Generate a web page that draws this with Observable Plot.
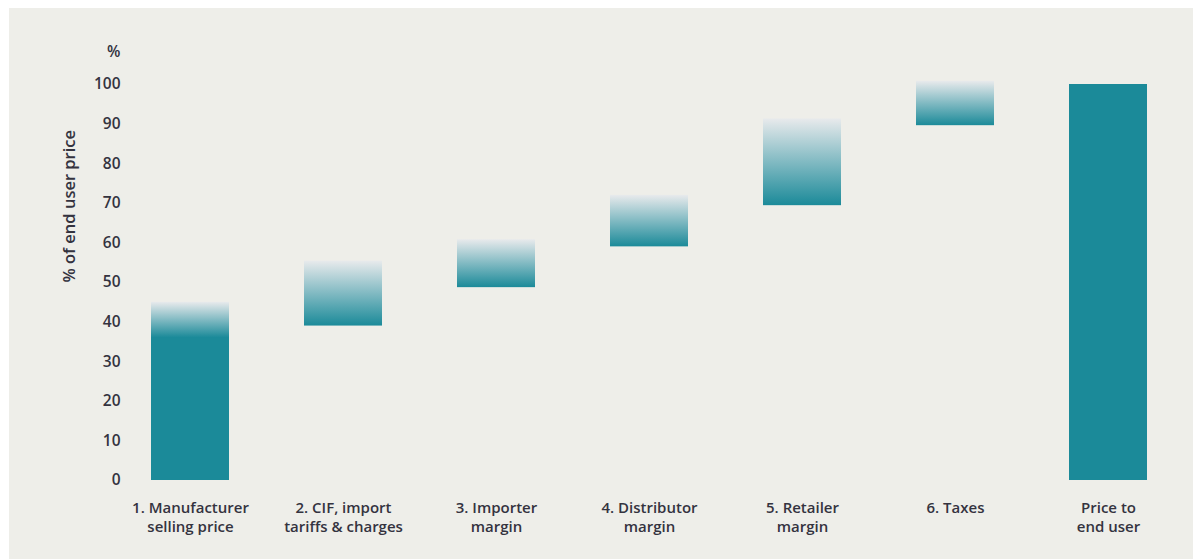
<!DOCTYPE html>
<html><head><meta charset="utf-8">
<script src="https://cdn.jsdelivr.net/npm/d3@7"></script>
<script src="https://cdn.jsdelivr.net/npm/@observablehq/plot@0.6"></script>
<style>
html,body{margin:0;padding:0;background:#fff;}
#panel{position:absolute;left:9px;top:8px;width:1184px;height:551px;background:#EEEEE9;}
</style></head><body><div id="panel"></div>
<script>
const categories = ["1. Manufacturer\nselling price","2. CIF, import\ntariffs & charges","3. Importer\nmargin","4. Distributor\nmargin","5. Retailer\nmargin","6. Taxes","Price to\nend user"];
const lows  = [0, 39, 48.7, 59, 69.4, 89.6, 0];
const highs = [45, 55.4, 60.8, 72, 91.3, 100.8, 100];
const yTicks = [0, 10, 20, 30, 40, 50, 60, 70, 80, 90, 100];
const yUnit = "%";
const yLabel = "% of end user price";

const rows = categories.map((c, i) => ({category: c, low: lows[i], high: highs[i], i}));
const teal = "#1B8A99";
const ink = "#34333f";

const plot = Plot.plot({
  width: 1184, height: 551,
  marginLeft: 109, marginRight: 12, marginTop: 76, marginBottom: 79,
  style: {fontFamily: "Open Sans", fontSize: "15px", color: ink, background: "transparent"},
  x: {domain: categories, paddingInner: 0.49, paddingOuter: 0.213, axis: null},
  y: {domain: [0, 100], axis: null},
  marks: [
    Plot.barY(rows.filter(d => d.i === 0), {x: "category", y1: "low", y2: "high", fill: "url(#fadeTop)"}),
    Plot.barY(rows.filter(d => d.i > 0 && d.i < categories.length - 1), {x: "category", y1: "low", y2: "high", fill: "url(#fadeFull)"}),
    Plot.barY(rows.filter(d => d.i === categories.length - 1), {x: "category", y1: "low", y2: "high", fill: teal}),
    Plot.axisY(yTicks, {tickSize: 0, tickPadding: 0, dx: 2, label: null, fontSize: 15.5, fontWeight: 600, fill: ink}),
    Plot.text([yUnit], {frameAnchor: "top-left", dx: 2, dy: -39, textAnchor: "end", fontSize: 15.5, fontWeight: 600, fill: ink}),
    Plot.text([yLabel], {frameAnchor: "left", rotate: -90, dx: -49, fontSize: 16.5, fontWeight: 600, fill: ink}),
    Plot.text(categories, {x: d => d, frameAnchor: "bottom", lineAnchor: "top", dy: 19, lineHeight: 1.25, fontSize: 15, fontWeight: 600, fill: ink})
  ]
});

const svg = d3.select(plot);
const defs = svg.insert("defs", ":first-child");
const g1 = defs.append("linearGradient").attr("id", "fadeTop").attr("x1", 0).attr("y1", 0).attr("x2", 0).attr("y2", 1);
g1.append("stop").attr("offset", 0).attr("stop-color", "#E8EAEC");
g1.append("stop").attr("offset", 0.2).attr("stop-color", teal);
g1.append("stop").attr("offset", 1).attr("stop-color", teal);
const g2 = defs.append("linearGradient").attr("id", "fadeFull").attr("x1", 0).attr("y1", 0).attr("x2", 0).attr("y2", 1);
g2.append("stop").attr("offset", 0).attr("stop-color", "#E8EAEC");
g2.append("stop").attr("offset", 1).attr("stop-color", teal);

document.getElementById("panel").appendChild(plot);
</script></body></html>
